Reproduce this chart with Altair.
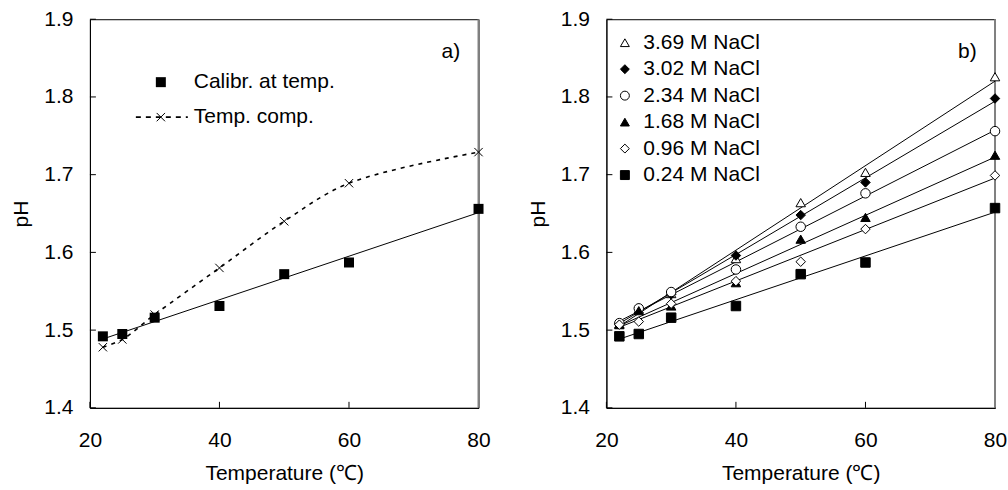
import altair as alt
import pandas as pd

# ---------------- data ----------------
temps = [22, 25, 30, 40, 50, 60, 80]

# panel a)
calib_at_temp = [1.492, 1.495, 1.516, 1.531, 1.572, 1.587, 1.656]
temp_comp = [1.478, 1.488, 1.520, 1.580, 1.640, 1.689, 1.729]
legend_a = ["Calibr. at temp.", "Temp. comp."]

# panel b)
nacl_labels = ["3.69 M NaCl", "3.02 M NaCl", "2.34 M NaCl",
               "1.68 M NaCl", "0.96 M NaCl", "0.24 M NaCl"]
ph_369 = [1.508, 1.527, 1.547, 1.592, 1.664, 1.703, 1.826]
ph_302 = [1.508, 1.528, 1.546, 1.596, 1.648, 1.690, 1.798]
ph_234 = [1.509, 1.528, 1.549, 1.578, 1.633, 1.676, 1.756]
ph_168 = [1.507, 1.525, 1.531, 1.561, 1.617, 1.645, 1.725]
ph_096 = [1.507, 1.511, 1.534, 1.563, 1.588, 1.630, 1.699]
ph_024 = [1.492, 1.495, 1.516, 1.531, 1.572, 1.587, 1.657]
nacl_series = [ph_369, ph_302, ph_234, ph_168, ph_096, ph_024]

x_ticks = [20, 40, 60, 80]
y_ticks = [1.4, 1.5, 1.6, 1.7, 1.8, 1.9]
panel_tags = ["a)", "b)"]

# ---------------- frames ----------------
df_calib = pd.DataFrame({"T": temps, "pH": calib_at_temp})
df_comp = pd.DataFrame({"T": temps, "pH": temp_comp})
rows = []
for lab, vals in zip(nacl_labels, nacl_series):
    for t, v in zip(temps, vals):
        rows.append({"series": lab, "T": t, "pH": v})
df_nacl = pd.DataFrame(rows)
df_xt = pd.DataFrame({"T": x_ticks})
df_yt = pd.DataFrame({"pH": y_ticks})

# ---------------- styling ----------------
W = H = 389
FONT = "Liberation Sans"
FS = 21

x_scale = alt.Scale(domain=[20, 80], nice=False, zero=False)
y_scale = alt.Scale(domain=[1.4, 1.9], nice=False, zero=False)

x_axis = alt.Axis(values=x_ticks, title="Temperature (℃)", ticks=False, grid=False,
                  labelPadding=22, titlePadding=12, format="d", labelFlush=False)
y_axis = alt.Axis(values=y_ticks, title="pH", ticks=False, grid=False,
                  labelPadding=17, titlePadding=12, format=".1f", labelFlush=False)

X = alt.X("T:Q", scale=x_scale, axis=x_axis)
Y = alt.Y("pH:Q", scale=y_scale, axis=y_axis)


def frame_layers():
    xt = alt.Chart(df_xt).mark_rule(color="black", strokeWidth=1).encode(
        x=X, y=alt.value(H - 6), y2=alt.value(H))
    yt = alt.Chart(df_yt).mark_rule(color="black", strokeWidth=1).encode(
        y=Y, x=alt.value(0), x2=alt.value(6))
    right = alt.Chart(pd.DataFrame({"T": [80]})).mark_rule(color="#808080", strokeWidth=2).encode(
        x=X, y=alt.value(0), y2=alt.value(H))
    return [xt, yt, right]


def tag(text):
    return alt.Chart(pd.DataFrame({"t": [text]})).mark_text(
        align="left", baseline="middle", fontSize=FS, font=FONT, color="black"
    ).encode(text="t:N", x=alt.value(352), y=alt.value(33))


# ---------------- panel a ----------------
calib_pts = alt.Chart(df_calib).mark_point(
    shape="square", filled=True, color="black", size=100, opacity=1
).encode(x=X, y=Y)
calib_fit = alt.Chart(df_calib).transform_regression(
    "T", "pH", extent=[22, 80]
).mark_line(color="black", strokeWidth=1).encode(x=X, y=Y)
comp_line = alt.Chart(df_comp).mark_line(
    color="black", strokeWidth=1.6, strokeDash=[4, 5], interpolate="catmull-rom"
).encode(x=X, y=Y)
cross = "M -1 -1 L 1 1 M -1 1 L 1 -1"
comp_pts = alt.Chart(df_comp).mark_point(
    shape=cross, filled=False, color="black", size=70, strokeWidth=1, opacity=1
).encode(x=X, y=Y)

leg_sq = alt.Chart(pd.DataFrame({"l": [legend_a[0]]})).mark_point(
    shape="square", filled=True, color="black", size=100, opacity=1
).encode(x=alt.value(71), y=alt.value(63))
leg_t1 = alt.Chart(pd.DataFrame({"l": [legend_a[0]]})).mark_text(
    align="left", baseline="middle", fontSize=FS, font=FONT, color="black"
).encode(text="l:N", x=alt.value(104), y=alt.value(63))
leg_dash = alt.Chart(pd.DataFrame({"l": [legend_a[1]]})).mark_rule(
    color="black", strokeWidth=1.6, strokeDash=[5, 5]
).encode(x=alt.value(46), x2=alt.value(98), y=alt.value(98))
leg_x = alt.Chart(pd.DataFrame({"l": [legend_a[1]]})).mark_point(
    shape=cross, filled=False, color="black", size=70, strokeWidth=1, opacity=1
).encode(x=alt.value(71), y=alt.value(98))
leg_t2 = alt.Chart(pd.DataFrame({"l": [legend_a[1]]})).mark_text(
    align="left", baseline="middle", fontSize=FS, font=FONT, color="black"
).encode(text="l:N", x=alt.value(104), y=alt.value(98))

panel_a = alt.layer(
    *frame_layers(), calib_fit, comp_line, calib_pts, comp_pts,
    leg_dash, leg_sq, leg_x, leg_t1, leg_t2, tag(panel_tags[0])
).properties(width=W, height=H)

# ---------------- panel b ----------------
shape_range = ["triangle-up", "diamond", "circle", "triangle-up", "diamond", "square"]
fill_range = ["white", "black", "white", "black", "white", "black"]
leg = dict(title=None, orient="none", legendX=8, legendY=13, padding=0,
           labelFontSize=FS, labelFont=FONT, labelColor="black", rowPadding=4.5,
           symbolSize=80, symbolStrokeWidth=1, labelOffset=8, labelLimit=300)

nacl_fit = alt.Chart(df_nacl).transform_regression(
    "T", "pH", groupby=["series"], extent=[22, 80]
).mark_line(color="black", strokeWidth=1).encode(x=X, y=Y, detail="series:N")

nacl_pts = alt.Chart(df_nacl).mark_point(strokeWidth=1, opacity=1, size=90).encode(
    x=X, y=Y,
    shape=alt.Shape("series:N", scale=alt.Scale(domain=nacl_labels, range=shape_range),
                    legend=alt.Legend(**leg)),
    fill=alt.Fill("series:N", scale=alt.Scale(domain=nacl_labels, range=fill_range),
                  legend=alt.Legend(**leg)),
    stroke=alt.Stroke("series:N", scale=alt.Scale(domain=nacl_labels, range=["black"] * 6),
                      legend=alt.Legend(**leg)),
)

panel_b = alt.layer(
    *frame_layers(), nacl_fit, nacl_pts, tag(panel_tags[1])
).properties(width=W, height=H)

chart = alt.hconcat(panel_a, panel_b, spacing=35).resolve_legend(
    shape="independent", fill="independent", stroke="independent"
).properties(
    padding={"left": 10, "top": 7, "right": 0, "bottom": 0},
    background="white"
).configure_view(
    stroke="black", strokeWidth=1
).configure_axis(
    labelFont=FONT, titleFont=FONT, labelFontSize=FS, titleFontSize=FS,
    labelColor="black", titleColor="black", titleFontWeight="normal",
    domainColor="black", domainWidth=1
)

chart.save("out.html", embed_options={"renderer": "svg", "actions": False})
